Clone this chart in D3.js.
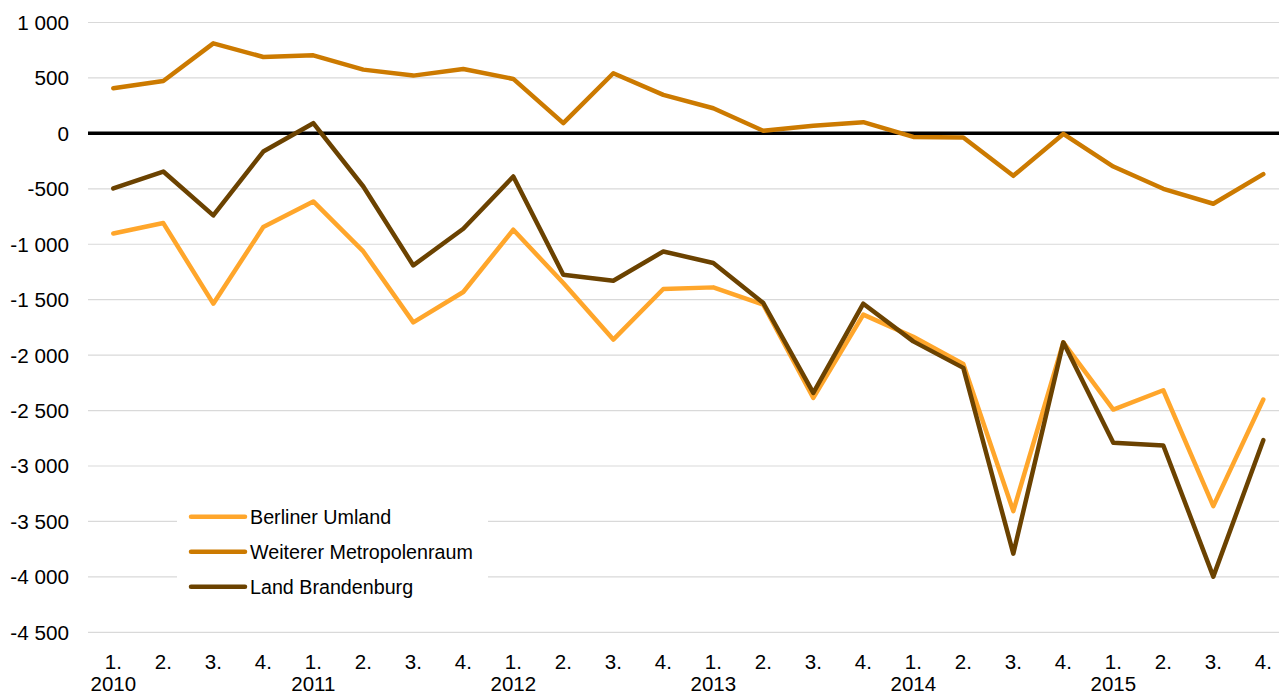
<!DOCTYPE html>
<html>
<head>
<meta charset="utf-8">
<script src="https://d3js.org/d3.v7.min.js"></script>
<style>
  body { margin: 0; background: #fff; }
  text { font-family: "Liberation Sans", Arial, sans-serif; fill: #000; }
</style>
</head>
<body>
<div id="vis"></div>
<script>
const quarters = ['1.', '2.', '3.', '4.'];
const years = ['2010', '2011', '2012', '2013', '2014', '2015'];

const berlinerUmland = [-903, -809, -1536, -845, -614, -1065, -1705, -1431, -869, -1350, -1860, -1404,
  -1389, -1545, -2386, -1635, -1835, -2080, -3407, -1885, -2491, -2317, -3362, -2401];
const weitererMetropolenraum = [407, 473, 812, 689, 704, 575, 521, 581, 491, 92, 542, 347,
  227, 23, 68, 101, -32, -38, -383, -5, -299, -500, -635, -368];
const landBrandenburg = [-497, -344, -740, -164, 92, -479, -1191, -860, -389, -1275, -1329, -1065,
  -1169, -1530, -2341, -1536, -1876, -2115, -3791, -1885, -2791, -2815, -3998, -2767];

const yTicks = [1000, 500, 0, -500, -1000, -1500, -2000, -2500, -3000, -3500, -4000, -4500];

const series = [
  { name: 'Berliner Umland', values: berlinerUmland, color: '#ffa62b' },
  { name: 'Weiterer Metropolenraum', values: weitererMetropolenraum, color: '#cc7a00' },
  { name: 'Land Brandenburg', values: landBrandenburg, color: '#6b4200' }
];

// one slot per quarter, e.g. "2010-1."
let periods = [];
years.forEach(y => quarters.forEach(q => periods.push(y + '-' + q)));

const width = 1279, height = 693;
const svg = d3.select('#vis').append('svg').attr('width', width).attr('height', height);

const x = d3.scaleBand().domain(periods).range([88.3, 1288.3]).padding(0);
const y = d3.scaleLinear().domain([-4500, 1000]).range([632.3, 22.5]);
const cx = p => x(p) + x.bandwidth() / 2;

// gridlines
svg.append('g')
  .selectAll('line')
  .data(yTicks.filter(d => d !== 0))
  .join('line')
  .attr('x1', 88).attr('x2', width)
  .attr('y1', d => y(d)).attr('y2', d => y(d))
  .attr('stroke', '#d9d9d9').attr('stroke-width', 1.2);

// y labels
const fmt = v => d3.format(',')(v).replace(/,/g, ' ').replace('−', '-');
svg.append('g')
  .selectAll('text')
  .data(yTicks)
  .join('text')
  .attr('x', 69).attr('y', d => y(d))
  .attr('text-anchor', 'end').attr('dominant-baseline', 'central')
  .style('font-size', '20.7px')
  .text(d => fmt(d));

// zero line
svg.append('line')
  .attr('x1', 88).attr('x2', width)
  .attr('y1', y(0)).attr('y2', y(0))
  .attr('stroke', '#000').attr('stroke-width', 3.5);

// x labels
svg.append('g')
  .selectAll('text')
  .data(periods)
  .join('text')
  .attr('x', d => cx(d)).attr('y', 669)
  .attr('text-anchor', 'middle')
  .style('font-size', '20.5px')
  .text(d => d.split('-')[1]);

svg.append('g')
  .selectAll('text')
  .data(years)
  .join('text')
  .attr('x', d => cx(d + '-1.')).attr('y', 690.5)
  .attr('text-anchor', 'middle')
  .style('font-size', '20.5px')
  .text(d => d);

// lines
const line = d3.line()
  .x((d, i) => cx(periods[i]))
  .y(d => y(d));

svg.append('g')
  .selectAll('path')
  .data(series)
  .join('path')
  .attr('d', d => line(d.values))
  .attr('fill', 'none')
  .attr('stroke', d => d.color)
  .attr('stroke-width', 4.5)
  .attr('stroke-linejoin', 'round')
  .attr('stroke-linecap', 'round');

// legend
const legend = svg.append('g');
legend.append('rect')
  .attr('x', 177).attr('y', 490).attr('width', 311).attr('height', 112)
  .attr('fill', '#fff');
const items = legend.selectAll('g.item')
  .data(series)
  .join('g')
  .attr('class', 'item')
  .attr('transform', (d, i) => `translate(0,${516.7 + i * 35})`);
items.append('line')
  .attr('x1', 191).attr('x2', 245)
  .attr('stroke', d => d.color).attr('stroke-width', 4.5)
  .attr('stroke-linecap', 'round');
items.append('text')
  .attr('x', 250).attr('y', 0)
  .attr('dominant-baseline', 'central')
  .style('font-size', '19.7px')
  .text(d => d.name);
</script>
</body>
</html>
